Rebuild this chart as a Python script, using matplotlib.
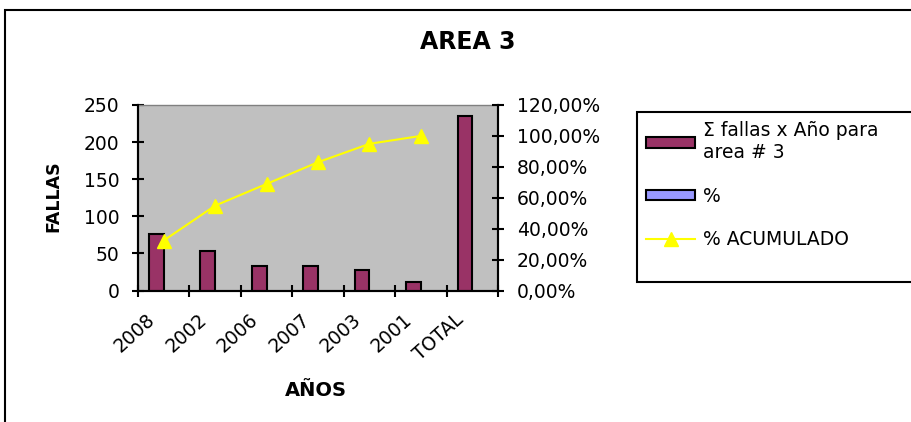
import matplotlib
matplotlib.use("Agg")
import matplotlib.pyplot as plt
from matplotlib.patches import Patch, Rectangle
from matplotlib.lines import Line2D
from matplotlib.ticker import FuncFormatter

plt.rcParams['font.family'] = ['DejaVu Sans']

# Data
categories = ["2008", "2002", "2006", "2007", "2003", "2001", "TOTAL"]
fallas = [76, 53, 33, 33, 28, 12, 235]
pct_acumulado = [32.34, 54.89, 68.94, 82.98, 94.89, 100.00]
left_ticks = [0, 50, 100, 150, 200, 250]
right_ticks = [0, 20, 40, 60, 80, 100, 120]

W, H, DPI = 912, 422, 100
fig = plt.figure(figsize=(W / DPI, H / DPI), dpi=DPI)
fig.patch.set_facecolor("white")

# outer chart frame
fig.patches.append(Rectangle((5 / W, -0.1), 1.2, 1 - 10 / H + 0.1,
                             transform=fig.transFigure, fill=False,
                             edgecolor="black", linewidth=1.5))

px0, px1, py0, py1 = 138, 498, 105, 290.5
ax = fig.add_axes([px0 / W, 1 - py1 / H, (px1 - px0) / W, (py1 - py0) / H])
ax.set_facecolor("#C0C0C0")

# clustered bars: two series per category, gap width 150%
n = len(categories)
gap = 1.5
bw = 1 / (2 + gap)
xs = [i + gap * bw / 2 + bw / 2 for i in range(n)]
ax.bar(xs, fallas, width=bw, color="#993366", edgecolor="black", linewidth=1.5, zorder=3)

ax.set_xlim(0, n)
ax.set_ylim(0, 250)
ax.set_yticks(left_ticks)
ax.set_xticks(range(n + 1))
ax.set_xticklabels([])
# rotated category labels, anchored a little left of each category centre
label_offset = 0.34
ax.set_xticks([i + 0.5 - label_offset for i in range(n)], minor=True)
ax.set_xticklabels(categories, minor=True, rotation=42, ha="right",
                   rotation_mode="anchor", fontsize=13.5)
ax.tick_params(axis="x", which="minor", length=0, pad=14)
ax.tick_params(axis="x", which="major", direction="inout", length=9, width=1.5)
ax.tick_params(axis="y", direction="inout", length=9, width=1.5, labelsize=13.5, pad=9)

for s in ("left", "bottom", "right"):
    ax.spines[s].set_linewidth(1.5)
    ax.spines[s].set_color("black")
ax.spines["top"].set_color("#808080")
ax.spines["top"].set_linewidth(1.0)

ax2 = ax.twinx()
ax2.set_ylim(0, 120)
ax2.set_yticks(right_ticks)
ax2.yaxis.set_major_formatter(FuncFormatter(lambda v, p: f"{v:.2f}".replace(".", ",") + "%"))
ax2.tick_params(axis="y", direction="inout", length=9, width=1.5, labelsize=13.5, pad=9)
for s in ("left", "bottom", "right"):
    ax2.spines[s].set_linewidth(1.5)
    ax2.spines[s].set_color("black")
ax2.spines["top"].set_visible(False)
ax2.plot([i + 0.5 for i in range(len(pct_acumulado))], pct_acumulado,
         color="#FFFF00", linewidth=1.5, marker="^", markersize=10,
         markeredgecolor="#FFFF00", zorder=4)

fig.text(468 / W, 1 - 42 / H, "AREA 3", ha="center", va="center",
         fontsize=17, fontweight="bold")
fig.text(53 / W, 1 - 196 / H, "FALLAS", ha="center", va="center",
         rotation=90, fontsize=12.5, fontweight="bold")
fig.text(316 / W, 1 - 390 / H, "AÑOS", ha="center", va="center",
         fontsize=14, fontweight="bold")

# legend box
fig.patches.append(Rectangle((637 / W, 1 - 282 / H), 1.0, 170 / H,
                             transform=fig.transFigure, facecolor="white",
                             edgecolor="black", linewidth=1.5, zorder=1))
handles = [
    Patch(facecolor="#993366", edgecolor="black", linewidth=1.5),
    Patch(facecolor="#9999FF", edgecolor="black", linewidth=1.5),
    Line2D([], [], color="#FFFF00", linewidth=1.5, marker="^", markersize=10,
           markeredgecolor="#FFFF00"),
]
labels = ["Σ fallas x Año para\narea # 3", "%", "% ACUMULADO"]
leg = fig.legend(handles, labels, loc="upper left",
                 bbox_to_anchor=(637 / W, 1 - 112 / H), borderaxespad=0,
                 fontsize=13.5, frameon=False,
                 handlelength=2.6, handleheight=0.5,
                 handletextpad=0.4, borderpad=0.5, labelspacing=1.3)

fig.savefig("out.png", dpi=DPI)
